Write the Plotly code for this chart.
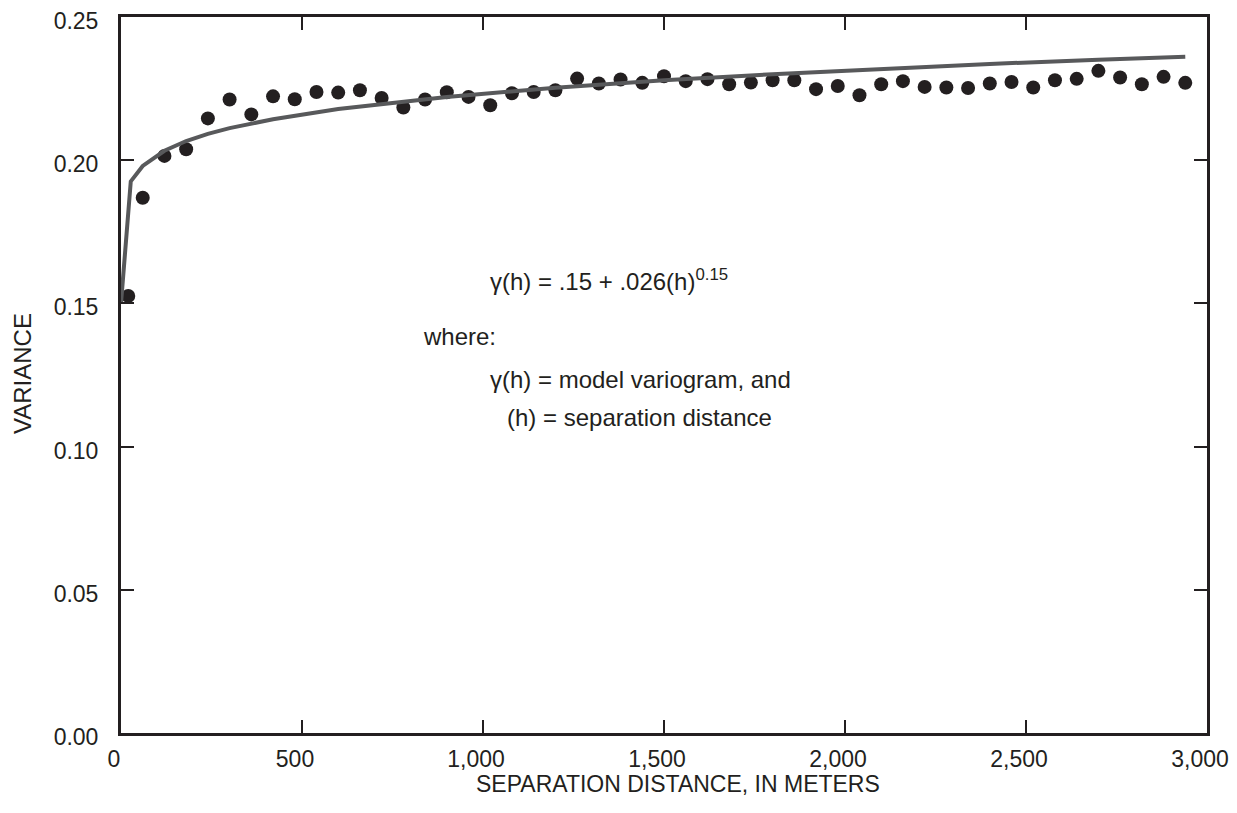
import plotly.graph_objects as go

# Experimental variogram points (separation distance in meters, variance)
dist = [20, 60, 120, 180, 240, 300, 360, 420, 480, 540, 600, 660, 720, 780, 840,
        900, 960, 1020, 1080, 1140, 1200, 1260, 1320, 1380, 1440, 1500, 1560, 1620,
        1680, 1740, 1800, 1860, 1920, 1980, 2040, 2100, 2160, 2220, 2280, 2340, 2400,
        2460, 2520, 2580, 2640, 2700, 2760, 2820, 2880, 2940]
variance = [0.1526, 0.1869, 0.2015, 0.2038, 0.2146, 0.2212, 0.2160, 0.2223, 0.2213,
            0.2238, 0.2236, 0.2244, 0.2217, 0.2184, 0.2212, 0.2237, 0.2221, 0.2192,
            0.2234, 0.2238, 0.2244, 0.2285, 0.2268, 0.2282, 0.2270, 0.2293, 0.2276,
            0.2283, 0.2265, 0.2271, 0.2279, 0.2279, 0.2248, 0.2259, 0.2227, 0.2265,
            0.2276, 0.2256, 0.2254, 0.2252, 0.2268, 0.2273, 0.2254, 0.2279, 0.2284,
            0.2312, 0.2289, 0.2265, 0.2291, 0.2270]

# Model variogram line vertices
model_h = [0, 27, 60, 120, 180, 240, 300, 420, 600, 900, 1200, 1500, 1800, 2100,
           2400, 2700, 2940]
model_v = [0.1500, 0.1926, 0.1980, 0.2033, 0.2067, 0.2092, 0.2112, 0.2143, 0.2179,
           0.2221, 0.2253, 0.2279, 0.2300, 0.2319, 0.2336, 0.2351, 0.2361]

x_ticks = [0, 500, 1000, 1500, 2000, 2500, 3000]
x_tick_text = ["0", "500", "1,000", "1,500", "2,000", "2,500", "3,000"]
y_ticks = [0.00, 0.05, 0.10, 0.15, 0.20, 0.25]
y_tick_text = ["0.00", "0.05", "0.10", "0.15", "0.20", "0.25"]

FONT = "Liberation Sans, Arial, sans-serif"
INK = "#231f20"

fig = go.Figure()
fig.add_trace(go.Scatter(x=dist, y=variance, mode="markers",
                         marker=dict(color=INK, size=14, line=dict(width=0)),
                         showlegend=False, cliponaxis=False))
fig.add_trace(go.Scatter(x=model_h, y=model_v, mode="lines",
                         line=dict(color="#58595b", width=4),
                         showlegend=False, cliponaxis=False))

axis_common = dict(showgrid=False, zeroline=False, showline=True, linecolor=INK,
                   linewidth=3, mirror="allticks", ticks="inside", ticklen=13,
                   tickwidth=1.5, tickcolor=INK, ticklabeloverflow="allow",
                   automargin=False,
                   tickfont=dict(family=FONT, size=23, color=INK))

fig.update_xaxes(range=[0, 3000], tickvals=x_ticks, ticktext=x_tick_text,
                 ticklabelstandoff=3, ticklabelshift=-7, **axis_common)
fig.update_yaxes(range=[0, 0.25], tickvals=y_ticks, ticktext=y_tick_text,
                 ticklabelstandoff=15, ticklabelshift=4, **axis_common)

ann_font = dict(family=FONT, size=24, color=INK)
fig.add_annotation(x=1014, y=0.1582, xref="x", yref="y", showarrow=False,
                   text="γ(h) = .15 + .026(h)<sup>0.15</sup>", font=ann_font,
                   xanchor="left", yanchor="middle")
fig.add_annotation(x=829, y=0.1386, xref="x", yref="y", showarrow=False,
                   text="where:", font=ann_font, xanchor="left", yanchor="middle")
fig.add_annotation(x=1014, y=0.1233, xref="x", yref="y", showarrow=False,
                   text="γ(h) = model variogram, and", font=ann_font,
                   xanchor="left", yanchor="middle")
fig.add_annotation(x=1061, y=0.1100, xref="x", yref="y", showarrow=False,
                   text="(h) = separation distance", font=ann_font,
                   xanchor="left", yanchor="middle")

# Axis titles
title_font = dict(family=FONT, size=23, color=INK)
fig.add_annotation(x=1539, y=-0.0715, xref="x", yref="paper", showarrow=False,
                   text="SEPARATION DISTANCE, IN METERS", font=title_font,
                   xanchor="center", yanchor="middle")
fig.add_annotation(x=-0.0912, y=0.1257, xref="paper", yref="y", showarrow=False,
                   text="VARIANCE", font=dict(family=FONT, size=24, color=INK),
                   textangle=-90, xanchor="center", yanchor="middle")

fig.update_layout(width=1221, height=797, autosize=False,
                  margin=dict(l=113, r=22, t=9, b=72),
                  plot_bgcolor="white", paper_bgcolor="white",
                  font=dict(family=FONT, color=INK))

fig.write_html("out.html")
